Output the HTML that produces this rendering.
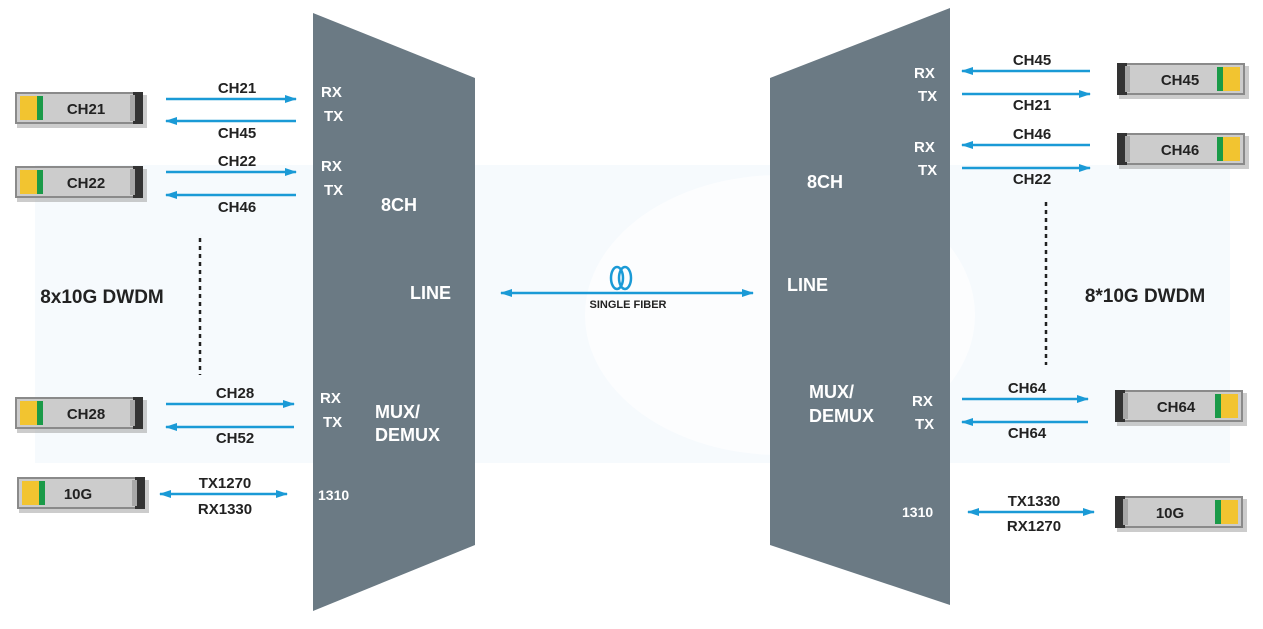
<!DOCTYPE html>
<html><head><meta charset="utf-8"><style>
html,body{margin:0;padding:0;background:#fff;}
svg{display:block;}
text{font-family:"Liberation Sans",Arial,sans-serif;font-weight:bold;}
</style></head><body>
<svg width="1263" height="629" viewBox="0 0 1263 629" xmlns="http://www.w3.org/2000/svg">
<defs>
<marker id="ah" markerWidth="12" markerHeight="8" refX="11" refY="4" orient="auto-start-reverse" markerUnits="userSpaceOnUse">
<path d="M0,0 L12,4 L0,8 Z" fill="#1a9ad6"/></marker>
<g id="modL">
<rect x="2" y="3" width="130" height="33" fill="#9a9a9a" opacity="0.5"/>
<rect x="0" y="0" width="128" height="32" fill="#8a8a8a"/>
<rect x="2" y="2" width="124" height="28" fill="#cccccc"/>
<rect x="5" y="4" width="17" height="24" fill="#f2c430"/>
<rect x="22" y="4" width="6" height="24" fill="#1a9a48"/>
<rect x="118" y="0" width="10" height="32" fill="#333"/>
<rect x="115" y="3" width="5" height="26" fill="#a8a8a8"/>
</g>
<g id="modR">
<rect x="2" y="3" width="130" height="33" fill="#9a9a9a" opacity="0.5"/>
<rect x="0" y="0" width="128" height="32" fill="#8a8a8a"/>
<rect x="2" y="2" width="124" height="28" fill="#cccccc"/>
<rect x="106" y="4" width="17" height="24" fill="#f2c430"/>
<rect x="100" y="4" width="6" height="24" fill="#1a9a48"/>
<rect x="0" y="0" width="10" height="32" fill="#333"/>
<rect x="8" y="3" width="5" height="26" fill="#a8a8a8"/>
</g>
</defs>
<rect x="35" y="165" width="1195" height="298" fill="#f6fafd"/>
<ellipse cx="780" cy="315" rx="195" ry="140" fill="#fcfdfe"/>

<polygon points="313,13 475,78 475,545 313,611" fill="#6b7a84"/>
<polygon points="770,78 950,8 950,605 770,545" fill="#6b7a84"/>

<g fill="#fff" font-size="15">
<text x="321" y="97">RX</text><text x="324" y="121">TX</text>
<text x="321" y="171">RX</text><text x="324" y="195">TX</text>
<text x="320" y="403">RX</text><text x="323" y="427">TX</text>
<text x="318" y="500" font-size="14">1310</text>
<text x="381" y="211" font-size="18">8CH</text>
<text x="410" y="299" font-size="18">LINE</text>
<text x="375" y="418" font-size="18">MUX/</text>
<text x="375" y="441" font-size="18">DEMUX</text>
<text x="914" y="78">RX</text><text x="918" y="101">TX</text>
<text x="914" y="152">RX</text><text x="918" y="175">TX</text>
<text x="912" y="406">RX</text><text x="915" y="429">TX</text>
<text x="902" y="517" font-size="14">1310</text>
<text x="807" y="188" font-size="18">8CH</text>
<text x="787" y="291" font-size="18">LINE</text>
<text x="809" y="398" font-size="18">MUX/</text>
<text x="809" y="422" font-size="18">DEMUX</text>
</g>

<g stroke="#1a9ad6" stroke-width="2.5" fill="none">
<line x1="166" y1="99" x2="296" y2="99" marker-end="url(#ah)"/>
<line x1="296" y1="121" x2="166" y2="121" marker-end="url(#ah)"/>
<line x1="166" y1="172" x2="296" y2="172" marker-end="url(#ah)"/>
<line x1="296" y1="195" x2="166" y2="195" marker-end="url(#ah)"/>
<line x1="166" y1="404" x2="294" y2="404" marker-end="url(#ah)"/>
<line x1="294" y1="427" x2="166" y2="427" marker-end="url(#ah)"/>
<line x1="160" y1="494" x2="287" y2="494" marker-start="url(#ah)" marker-end="url(#ah)"/>
<line x1="501" y1="293" x2="753" y2="293" marker-start="url(#ah)" marker-end="url(#ah)"/>
<line x1="1090" y1="71" x2="962" y2="71" marker-end="url(#ah)"/>
<line x1="962" y1="94" x2="1090" y2="94" marker-end="url(#ah)"/>
<line x1="1090" y1="145" x2="962" y2="145" marker-end="url(#ah)"/>
<line x1="962" y1="168" x2="1090" y2="168" marker-end="url(#ah)"/>
<line x1="962" y1="399" x2="1088" y2="399" marker-end="url(#ah)"/>
<line x1="1088" y1="422" x2="962" y2="422" marker-end="url(#ah)"/>
<line x1="968" y1="512" x2="1094" y2="512" marker-start="url(#ah)" marker-end="url(#ah)"/>
<ellipse cx="617" cy="278" rx="6" ry="11"/>
<ellipse cx="625" cy="278" rx="6" ry="11"/>
</g>
<g stroke="#222" stroke-width="2.5" stroke-dasharray="4,4">
<line x1="200" y1="238" x2="200" y2="375"/>
<line x1="1046" y1="202" x2="1046" y2="365"/>
</g>

<g fill="#222" font-size="15" text-anchor="middle">
<text x="237" y="93">CH21</text><text x="237" y="138">CH45</text>
<text x="237" y="166">CH22</text><text x="237" y="212">CH46</text>
<text x="235" y="398">CH28</text><text x="235" y="443">CH52</text>
<text x="225" y="488">TX1270</text><text x="225" y="514">RX1330</text>
<text x="1032" y="65">CH45</text><text x="1032" y="110">CH21</text>
<text x="1032" y="139">CH46</text><text x="1032" y="184">CH22</text>
<text x="1027" y="393">CH64</text><text x="1027" y="438">CH64</text>
<text x="1034" y="506">TX1330</text><text x="1034" y="531">RX1270</text>
<text x="102" y="303" font-size="19">8x10G DWDM</text>
<text x="1145" y="302" font-size="19">8*10G DWDM</text>
<text x="628" y="308" font-size="11" font-weight="normal">SINGLE FIBER</text>
</g>

<use href="#modL" x="15" y="92"/>
<use href="#modL" x="15" y="166"/>
<use href="#modL" x="15" y="397"/>
<use href="#modL" x="17" y="477"/>
<use href="#modR" x="1117" y="63"/>
<use href="#modR" x="1117" y="133"/>
<use href="#modR" x="1115" y="390"/>
<use href="#modR" x="1115" y="496"/>
<g fill="#222" font-size="15" text-anchor="middle">
<text x="86" y="114">CH21</text><text x="86" y="188">CH22</text>
<text x="86" y="419">CH28</text><text x="78" y="499">10G</text>
<text x="1180" y="85">CH45</text><text x="1180" y="155">CH46</text>
<text x="1176" y="412">CH64</text><text x="1170" y="518">10G</text>
</g>
</svg>
</body></html>
